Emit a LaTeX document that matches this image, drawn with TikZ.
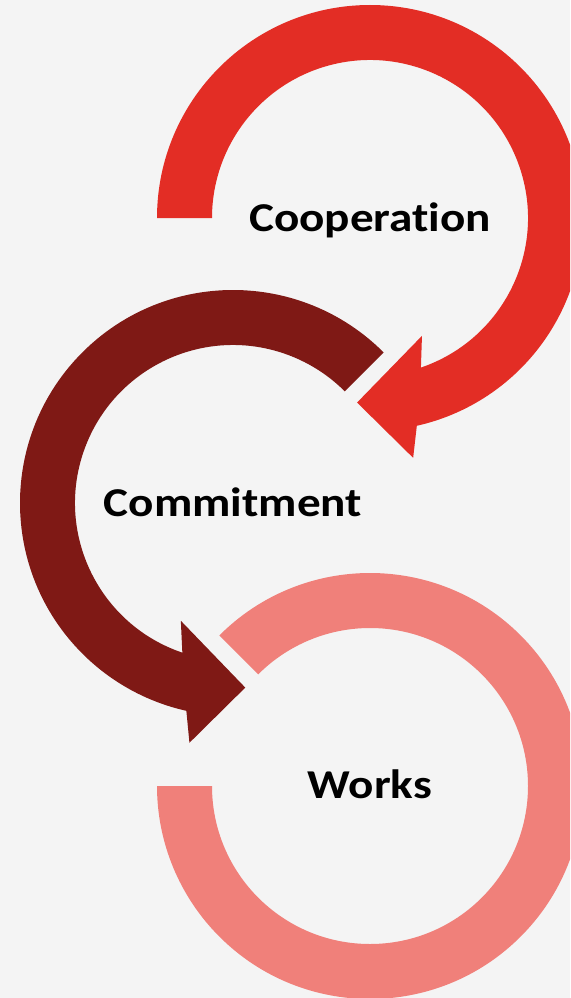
\documentclass[tikz,border=0pt]{standalone}
\usepackage{fontspec}
\setmainfont{Carlito}
\newfontfamily\ringfont{Carlito}[FakeStretch=1.15, Ligatures=NoCommon]
\usepackage{tikz}
\definecolor{coopred}{RGB}{227,45,37}
\definecolor{commitred}{RGB}{127,25,21}
\definecolor{workspink}{RGB}{240,128,122}
\definecolor{paper}{RGB}{244,244,244}

\begin{document}
\begin{tikzpicture}[x=1pt, y=-1pt,
    ringlabel/.style={font=\ringfont\fontsize{41}{48}\selectfont\bfseries, text=black, anchor=base, inner sep=0pt}]
  \clip (0,0) rectangle (570,998);
  \fill[paper] (0,0) rectangle (570,998);
  \coordinate (coopc) at (370,218);
  \coordinate (commitc) at (233,503);
  \coordinate (worksc) at (370,786);
  % red arrow, clockwise
  \fill[coopred, shift={(coopc)}]
    (180:213) arc[start angle=180, end angle=437.3, radius=213]
    -- (79.8:243.7) -- (94:185) -- (66.2:128.8) -- (431.2:158)
    arc[start angle=431.2, end angle=180, radius=158] -- cycle;
  % dark arrow, anticlockwise
  \fill[commitred, shift={(commitc)}]
    (315:213) arc[start angle=315, end angle=102.65, radius=213]
    -- (100.3:243.7) -- (86.2:185) -- (113.9:128.8) -- (108.7:158)
    arc[start angle=108.7, end angle=315, radius=158] -- cycle;
  % pink ring, no head
  \fill[workspink, shift={(worksc)}]
    (225:213) arc[start angle=225, end angle=540, radius=213]
    -- (540:158) arc[start angle=540, end angle=225, radius=158] -- cycle;
  \node[ringlabel] (coop) at ([yshift=-13pt]coopc) {Cooperation};
  \node[ringlabel] (commit) at ([yshift=-13pt]commitc) {Commitment};
  \node[ringlabel] (works) at ([yshift=-12pt]worksc) {Works};
\end{tikzpicture}
\end{document}
